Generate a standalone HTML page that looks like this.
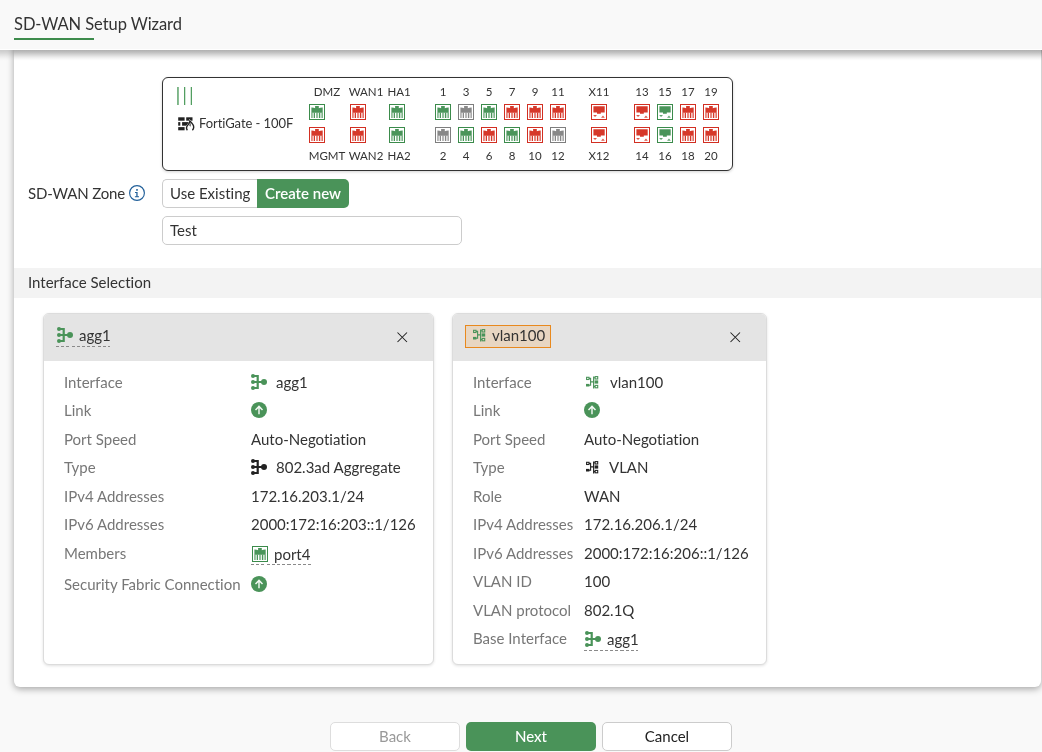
<!DOCTYPE html>
<html><head><meta charset="utf-8"><title>SD-WAN Setup Wizard</title>
<style>
*{box-sizing:border-box;margin:0;padding:0}
html,body{width:1042px;height:752px;overflow:hidden;background:#f9f9f9;font-family:"Lato","Liberation Sans",sans-serif;color:#333;font-variant-ligatures:none;font-feature-settings:"liga" 0,"clig" 0}
body{position:relative}
.a{position:absolute}
.t{position:absolute;white-space:nowrap;font-size:15px;line-height:20px;will-change:transform}
.pi,.ic{position:absolute;display:block}
.pl{position:absolute;will-change:transform;white-space:nowrap;font-size:11.5px;line-height:14px;color:#333;text-align:center;width:40px}
.lbl{color:#777}
.val{color:#333}
</style></head><body>

<div class="a" style="left:14px;top:20px;width:1027px;height:667px;background:#fff;border-radius:6px;box-shadow:0 2px 7px rgba(0,0,0,.34)"></div>
<div class="a" style="left:0;top:0;width:1042px;height:50px;background:#f9f9f9;border-bottom:1px solid #fff"></div>
<div class="a" style="left:0;top:50px;width:14px;height:12px;opacity:.6;background:linear-gradient(to bottom,rgba(0,0,0,.31) 0,rgba(0,0,0,.26) 2px,rgba(0,0,0,.19) 4px,rgba(0,0,0,.115) 6px,rgba(0,0,0,.05) 8px,rgba(0,0,0,.012) 10px,rgba(0,0,0,0) 11px)"></div>
<div class="a" style="left:14px;top:50px;width:1028px;height:12px;background:linear-gradient(to bottom,rgba(0,0,0,.31) 0,rgba(0,0,0,.26) 2px,rgba(0,0,0,.19) 4px,rgba(0,0,0,.115) 6px,rgba(0,0,0,.05) 8px,rgba(0,0,0,.012) 10px,rgba(0,0,0,0) 11px)"></div>
<div class="t" style="left:13.5px;top:14px;font-size:16.5px;color:#333;letter-spacing:-.07px">SD-WAN Setup Wizard</div>
<div class="a" style="left:14px;top:38px;width:80px;height:2px;background:#3d8b4c"></div>
<div class="a" style="left:162px;top:77px;width:571px;height:94px;border:1px solid #333;border-radius:6px;box-shadow:0 1px 3px rgba(0,0,0,.18);background:#fff"></div>
<svg class="ic" style="left:176px;top:87px" width="18" height="18" viewBox="0 0 18 18"><g fill="#4a9a5a"><rect x="1.1" y="0" width="1.7" height="18" opacity=".8"/><rect x="8.05" y="0" width="1.2" height="18"/><rect x="14.75" y="0" width="1.2" height="18"/></g></svg>
<svg class="ic" style="left:176px;top:115px" width="22" height="18" viewBox="0 0 22 18"><g fill="#222"><rect x="2.2" y="2.3" width="6.4" height="3.4"/><rect x="10.2" y="2.3" width="6.3" height="3.4"/><rect x="2.2" y="7.1" width="2.1" height="3.6"/><rect x="6.1" y="7.1" width="6.8" height="3.6"/><rect x="2.2" y="12.1" width="6.4" height="3.2"/></g><path d="M11.4 15.2C9.9 13.6 10.6 11.4 12.2 9.6C13.1 8.5 13.8 7.4 13.9 6C15.9 7.8 17.9 9.9 17.7 12.4C17.6 13.7 17.1 14.6 16.4 15.2Z" fill="#fff" stroke="#fff" stroke-width="1.8"/><path d="M11.4 15.2C9.9 13.6 10.6 11.4 12.2 9.6C13.1 8.5 13.8 7.4 13.9 6C15.9 7.8 17.9 9.9 17.7 12.4C17.6 13.7 17.1 14.6 16.4 15.2" fill="none" stroke="#222" stroke-width="1.4"/><path d="M14.1 7.6C14.8 9 14.7 10.4 14.4 11.8L13.4 10.4Z" fill="#222"/></svg>
<div class="t" style="left:199px;top:115px;font-size:13px;line-height:16px;color:#333;letter-spacing:-.07px">FortiGate - 100F</div>
<div class="pl" style="left:306.5px;top:85px">DMZ</div>
<div class="pl" style="left:306.5px;top:149px">MGMT</div>
<div class="pl" style="left:346.2px;top:85px">WAN1</div>
<div class="pl" style="left:346.2px;top:149px">WAN2</div>
<div class="pl" style="left:379.2px;top:85px">HA1</div>
<div class="pl" style="left:379.2px;top:149px">HA2</div>
<svg class="pi" style="left:309px;top:104px" width="16" height="16" viewBox="0 0 16 16"><rect x="0.5" y="0.5" width="15" height="15" fill="#fff" stroke="#3b8b4b"/><path d="M2.4 3.4Q4.5 3.3 6.1 4.2V2H9.8V4.2Q11.5 3.3 13.7 3.4V8.7H2.4Z" fill="#4a955a"/><g fill="#4a955a"><rect x="2.4" y="8.6" width="1" height="5.4"/><rect x="5" y="8.6" width="1" height="5.4"/><rect x="10" y="8.6" width="1" height="5.4"/><rect x="12.7" y="8.6" width="1" height="5.4"/><rect x="7" y="8.6" width="2.2" height="5.4" opacity=".6"/><rect x="3.4" y="8.6" width="1.6" height="5.4" opacity=".3"/><rect x="11" y="8.6" width="1.7" height="5.4" opacity=".3"/></g></svg>
<svg class="pi" style="left:309px;top:127px" width="16" height="16" viewBox="0 0 16 16"><rect x="0.5" y="0.5" width="15" height="15" fill="#fff" stroke="#d22f22"/><path d="M2.4 3.4Q4.5 3.3 6.1 4.2V2H9.8V4.2Q11.5 3.3 13.7 3.4V8.7H2.4Z" fill="#d6382a"/><g fill="#d6382a"><rect x="2.4" y="8.6" width="1" height="5.4"/><rect x="5" y="8.6" width="1" height="5.4"/><rect x="10" y="8.6" width="1" height="5.4"/><rect x="12.7" y="8.6" width="1" height="5.4"/><rect x="7" y="8.6" width="2.2" height="5.4" opacity=".6"/><rect x="3.4" y="8.6" width="1.6" height="5.4" opacity=".3"/><rect x="11" y="8.6" width="1.7" height="5.4" opacity=".3"/></g></svg>
<svg class="pi" style="left:350px;top:104px" width="16" height="16" viewBox="0 0 16 16"><rect x="0.5" y="0.5" width="15" height="15" fill="#fff" stroke="#d22f22"/><path d="M2.4 3.4Q4.5 3.3 6.1 4.2V2H9.8V4.2Q11.5 3.3 13.7 3.4V8.7H2.4Z" fill="#d6382a"/><g fill="#d6382a"><rect x="2.4" y="8.6" width="1" height="5.4"/><rect x="5" y="8.6" width="1" height="5.4"/><rect x="10" y="8.6" width="1" height="5.4"/><rect x="12.7" y="8.6" width="1" height="5.4"/><rect x="7" y="8.6" width="2.2" height="5.4" opacity=".6"/><rect x="3.4" y="8.6" width="1.6" height="5.4" opacity=".3"/><rect x="11" y="8.6" width="1.7" height="5.4" opacity=".3"/></g></svg>
<svg class="pi" style="left:350px;top:127px" width="16" height="16" viewBox="0 0 16 16"><rect x="0.5" y="0.5" width="15" height="15" fill="#fff" stroke="#d22f22"/><path d="M2.4 3.4Q4.5 3.3 6.1 4.2V2H9.8V4.2Q11.5 3.3 13.7 3.4V8.7H2.4Z" fill="#d6382a"/><g fill="#d6382a"><rect x="2.4" y="8.6" width="1" height="5.4"/><rect x="5" y="8.6" width="1" height="5.4"/><rect x="10" y="8.6" width="1" height="5.4"/><rect x="12.7" y="8.6" width="1" height="5.4"/><rect x="7" y="8.6" width="2.2" height="5.4" opacity=".6"/><rect x="3.4" y="8.6" width="1.6" height="5.4" opacity=".3"/><rect x="11" y="8.6" width="1.7" height="5.4" opacity=".3"/></g></svg>
<svg class="pi" style="left:389px;top:104px" width="16" height="16" viewBox="0 0 16 16"><rect x="0.5" y="0.5" width="15" height="15" fill="#fff" stroke="#3b8b4b"/><path d="M2.4 3.4Q4.5 3.3 6.1 4.2V2H9.8V4.2Q11.5 3.3 13.7 3.4V8.7H2.4Z" fill="#4a955a"/><g fill="#4a955a"><rect x="2.4" y="8.6" width="1" height="5.4"/><rect x="5" y="8.6" width="1" height="5.4"/><rect x="10" y="8.6" width="1" height="5.4"/><rect x="12.7" y="8.6" width="1" height="5.4"/><rect x="7" y="8.6" width="2.2" height="5.4" opacity=".6"/><rect x="3.4" y="8.6" width="1.6" height="5.4" opacity=".3"/><rect x="11" y="8.6" width="1.7" height="5.4" opacity=".3"/></g></svg>
<svg class="pi" style="left:389px;top:127px" width="16" height="16" viewBox="0 0 16 16"><rect x="0.5" y="0.5" width="15" height="15" fill="#fff" stroke="#3b8b4b"/><path d="M2.4 3.4Q4.5 3.3 6.1 4.2V2H9.8V4.2Q11.5 3.3 13.7 3.4V8.7H2.4Z" fill="#4a955a"/><g fill="#4a955a"><rect x="2.4" y="8.6" width="1" height="5.4"/><rect x="5" y="8.6" width="1" height="5.4"/><rect x="10" y="8.6" width="1" height="5.4"/><rect x="12.7" y="8.6" width="1" height="5.4"/><rect x="7" y="8.6" width="2.2" height="5.4" opacity=".6"/><rect x="3.4" y="8.6" width="1.6" height="5.4" opacity=".3"/><rect x="11" y="8.6" width="1.7" height="5.4" opacity=".3"/></g></svg>
<div class="pl" style="left:423px;top:85px">1</div>
<div class="pl" style="left:423px;top:149px">2</div>
<svg class="pi" style="left:435px;top:104px" width="16" height="16" viewBox="0 0 16 16"><rect x="0.5" y="0.5" width="15" height="15" fill="#fff" stroke="#3b8b4b"/><path d="M2.4 3.4Q4.5 3.3 6.1 4.2V2H9.8V4.2Q11.5 3.3 13.7 3.4V8.7H2.4Z" fill="#4a955a"/><g fill="#4a955a"><rect x="2.4" y="8.6" width="1" height="5.4"/><rect x="5" y="8.6" width="1" height="5.4"/><rect x="10" y="8.6" width="1" height="5.4"/><rect x="12.7" y="8.6" width="1" height="5.4"/><rect x="7" y="8.6" width="2.2" height="5.4" opacity=".6"/><rect x="3.4" y="8.6" width="1.6" height="5.4" opacity=".3"/><rect x="11" y="8.6" width="1.7" height="5.4" opacity=".3"/></g></svg>
<svg class="pi" style="left:435px;top:127px" width="16" height="16" viewBox="0 0 16 16"><rect x="0.5" y="0.5" width="15" height="15" fill="#fff" stroke="#7e7e7e"/><path d="M2.4 3.4Q4.5 3.3 6.1 4.2V2H9.8V4.2Q11.5 3.3 13.7 3.4V8.7H2.4Z" fill="#888888"/><g fill="#888888"><rect x="2.4" y="8.6" width="1" height="5.4"/><rect x="5" y="8.6" width="1" height="5.4"/><rect x="10" y="8.6" width="1" height="5.4"/><rect x="12.7" y="8.6" width="1" height="5.4"/><rect x="7" y="8.6" width="2.2" height="5.4" opacity=".6"/><rect x="3.4" y="8.6" width="1.6" height="5.4" opacity=".3"/><rect x="11" y="8.6" width="1.7" height="5.4" opacity=".3"/></g></svg>
<div class="pl" style="left:446px;top:85px">3</div>
<div class="pl" style="left:446px;top:149px">4</div>
<svg class="pi" style="left:458px;top:104px" width="16" height="16" viewBox="0 0 16 16"><rect x="0.5" y="0.5" width="15" height="15" fill="#fff" stroke="#7e7e7e"/><path d="M2.4 3.4Q4.5 3.3 6.1 4.2V2H9.8V4.2Q11.5 3.3 13.7 3.4V8.7H2.4Z" fill="#888888"/><g fill="#888888"><rect x="2.4" y="8.6" width="1" height="5.4"/><rect x="5" y="8.6" width="1" height="5.4"/><rect x="10" y="8.6" width="1" height="5.4"/><rect x="12.7" y="8.6" width="1" height="5.4"/><rect x="7" y="8.6" width="2.2" height="5.4" opacity=".6"/><rect x="3.4" y="8.6" width="1.6" height="5.4" opacity=".3"/><rect x="11" y="8.6" width="1.7" height="5.4" opacity=".3"/></g></svg>
<svg class="pi" style="left:458px;top:127px" width="16" height="16" viewBox="0 0 16 16"><rect x="0.5" y="0.5" width="15" height="15" fill="#fff" stroke="#3b8b4b"/><path d="M2.4 3.4Q4.5 3.3 6.1 4.2V2H9.8V4.2Q11.5 3.3 13.7 3.4V8.7H2.4Z" fill="#4a955a"/><g fill="#4a955a"><rect x="2.4" y="8.6" width="1" height="5.4"/><rect x="5" y="8.6" width="1" height="5.4"/><rect x="10" y="8.6" width="1" height="5.4"/><rect x="12.7" y="8.6" width="1" height="5.4"/><rect x="7" y="8.6" width="2.2" height="5.4" opacity=".6"/><rect x="3.4" y="8.6" width="1.6" height="5.4" opacity=".3"/><rect x="11" y="8.6" width="1.7" height="5.4" opacity=".3"/></g></svg>
<div class="pl" style="left:469px;top:85px">5</div>
<div class="pl" style="left:469px;top:149px">6</div>
<svg class="pi" style="left:481px;top:104px" width="16" height="16" viewBox="0 0 16 16"><rect x="0.5" y="0.5" width="15" height="15" fill="#fff" stroke="#3b8b4b"/><path d="M2.4 3.4Q4.5 3.3 6.1 4.2V2H9.8V4.2Q11.5 3.3 13.7 3.4V8.7H2.4Z" fill="#4a955a"/><g fill="#4a955a"><rect x="2.4" y="8.6" width="1" height="5.4"/><rect x="5" y="8.6" width="1" height="5.4"/><rect x="10" y="8.6" width="1" height="5.4"/><rect x="12.7" y="8.6" width="1" height="5.4"/><rect x="7" y="8.6" width="2.2" height="5.4" opacity=".6"/><rect x="3.4" y="8.6" width="1.6" height="5.4" opacity=".3"/><rect x="11" y="8.6" width="1.7" height="5.4" opacity=".3"/></g></svg>
<svg class="pi" style="left:481px;top:127px" width="16" height="16" viewBox="0 0 16 16"><rect x="0.5" y="0.5" width="15" height="15" fill="#fff" stroke="#d22f22"/><path d="M2.4 3.4Q4.5 3.3 6.1 4.2V2H9.8V4.2Q11.5 3.3 13.7 3.4V8.7H2.4Z" fill="#d6382a"/><g fill="#d6382a"><rect x="2.4" y="8.6" width="1" height="5.4"/><rect x="5" y="8.6" width="1" height="5.4"/><rect x="10" y="8.6" width="1" height="5.4"/><rect x="12.7" y="8.6" width="1" height="5.4"/><rect x="7" y="8.6" width="2.2" height="5.4" opacity=".6"/><rect x="3.4" y="8.6" width="1.6" height="5.4" opacity=".3"/><rect x="11" y="8.6" width="1.7" height="5.4" opacity=".3"/></g></svg>
<div class="pl" style="left:492px;top:85px">7</div>
<div class="pl" style="left:492px;top:149px">8</div>
<svg class="pi" style="left:504px;top:104px" width="16" height="16" viewBox="0 0 16 16"><rect x="0.5" y="0.5" width="15" height="15" fill="#fff" stroke="#d22f22"/><path d="M2.4 3.4Q4.5 3.3 6.1 4.2V2H9.8V4.2Q11.5 3.3 13.7 3.4V8.7H2.4Z" fill="#d6382a"/><g fill="#d6382a"><rect x="2.4" y="8.6" width="1" height="5.4"/><rect x="5" y="8.6" width="1" height="5.4"/><rect x="10" y="8.6" width="1" height="5.4"/><rect x="12.7" y="8.6" width="1" height="5.4"/><rect x="7" y="8.6" width="2.2" height="5.4" opacity=".6"/><rect x="3.4" y="8.6" width="1.6" height="5.4" opacity=".3"/><rect x="11" y="8.6" width="1.7" height="5.4" opacity=".3"/></g></svg>
<svg class="pi" style="left:504px;top:127px" width="16" height="16" viewBox="0 0 16 16"><rect x="0.5" y="0.5" width="15" height="15" fill="#fff" stroke="#3b8b4b"/><path d="M2.4 3.4Q4.5 3.3 6.1 4.2V2H9.8V4.2Q11.5 3.3 13.7 3.4V8.7H2.4Z" fill="#4a955a"/><g fill="#4a955a"><rect x="2.4" y="8.6" width="1" height="5.4"/><rect x="5" y="8.6" width="1" height="5.4"/><rect x="10" y="8.6" width="1" height="5.4"/><rect x="12.7" y="8.6" width="1" height="5.4"/><rect x="7" y="8.6" width="2.2" height="5.4" opacity=".6"/><rect x="3.4" y="8.6" width="1.6" height="5.4" opacity=".3"/><rect x="11" y="8.6" width="1.7" height="5.4" opacity=".3"/></g></svg>
<div class="pl" style="left:515px;top:85px">9</div>
<div class="pl" style="left:515px;top:149px">10</div>
<svg class="pi" style="left:527px;top:104px" width="16" height="16" viewBox="0 0 16 16"><rect x="0.5" y="0.5" width="15" height="15" fill="#fff" stroke="#d22f22"/><path d="M2.4 3.4Q4.5 3.3 6.1 4.2V2H9.8V4.2Q11.5 3.3 13.7 3.4V8.7H2.4Z" fill="#d6382a"/><g fill="#d6382a"><rect x="2.4" y="8.6" width="1" height="5.4"/><rect x="5" y="8.6" width="1" height="5.4"/><rect x="10" y="8.6" width="1" height="5.4"/><rect x="12.7" y="8.6" width="1" height="5.4"/><rect x="7" y="8.6" width="2.2" height="5.4" opacity=".6"/><rect x="3.4" y="8.6" width="1.6" height="5.4" opacity=".3"/><rect x="11" y="8.6" width="1.7" height="5.4" opacity=".3"/></g></svg>
<svg class="pi" style="left:527px;top:127px" width="16" height="16" viewBox="0 0 16 16"><rect x="0.5" y="0.5" width="15" height="15" fill="#fff" stroke="#d22f22"/><path d="M2.4 3.4Q4.5 3.3 6.1 4.2V2H9.8V4.2Q11.5 3.3 13.7 3.4V8.7H2.4Z" fill="#d6382a"/><g fill="#d6382a"><rect x="2.4" y="8.6" width="1" height="5.4"/><rect x="5" y="8.6" width="1" height="5.4"/><rect x="10" y="8.6" width="1" height="5.4"/><rect x="12.7" y="8.6" width="1" height="5.4"/><rect x="7" y="8.6" width="2.2" height="5.4" opacity=".6"/><rect x="3.4" y="8.6" width="1.6" height="5.4" opacity=".3"/><rect x="11" y="8.6" width="1.7" height="5.4" opacity=".3"/></g></svg>
<div class="pl" style="left:538px;top:85px">11</div>
<div class="pl" style="left:538px;top:149px">12</div>
<svg class="pi" style="left:550px;top:104px" width="16" height="16" viewBox="0 0 16 16"><rect x="0.5" y="0.5" width="15" height="15" fill="#fff" stroke="#d22f22"/><path d="M2.4 3.4Q4.5 3.3 6.1 4.2V2H9.8V4.2Q11.5 3.3 13.7 3.4V8.7H2.4Z" fill="#d6382a"/><g fill="#d6382a"><rect x="2.4" y="8.6" width="1" height="5.4"/><rect x="5" y="8.6" width="1" height="5.4"/><rect x="10" y="8.6" width="1" height="5.4"/><rect x="12.7" y="8.6" width="1" height="5.4"/><rect x="7" y="8.6" width="2.2" height="5.4" opacity=".6"/><rect x="3.4" y="8.6" width="1.6" height="5.4" opacity=".3"/><rect x="11" y="8.6" width="1.7" height="5.4" opacity=".3"/></g></svg>
<svg class="pi" style="left:550px;top:127px" width="16" height="16" viewBox="0 0 16 16"><rect x="0.5" y="0.5" width="15" height="15" fill="#fff" stroke="#7e7e7e"/><path d="M2.4 3.4Q4.5 3.3 6.1 4.2V2H9.8V4.2Q11.5 3.3 13.7 3.4V8.7H2.4Z" fill="#888888"/><g fill="#888888"><rect x="2.4" y="8.6" width="1" height="5.4"/><rect x="5" y="8.6" width="1" height="5.4"/><rect x="10" y="8.6" width="1" height="5.4"/><rect x="12.7" y="8.6" width="1" height="5.4"/><rect x="7" y="8.6" width="2.2" height="5.4" opacity=".6"/><rect x="3.4" y="8.6" width="1.6" height="5.4" opacity=".3"/><rect x="11" y="8.6" width="1.7" height="5.4" opacity=".3"/></g></svg>
<div class="pl" style="left:579px;top:85px">X11</div>
<div class="pl" style="left:579px;top:149px">X12</div>
<svg class="pi" style="left:591px;top:104px" width="16" height="16" viewBox="0 0 16 16"><rect x="0.5" y="0.5" width="15" height="15" fill="#fff" stroke="#d22f22"/><path d="M2.4 2.2H13.7V8.6H9.8V9.7H6V8.6H2.4Z" fill="#d6382a"/><path d="M2.1 10.9H6L4.05 13Z" fill="#d6382a" opacity=".85"/><path d="M10.1 13.7H13.8L11.95 11.5Z" fill="#d6382a" opacity=".85"/></svg>
<svg class="pi" style="left:591px;top:127px" width="16" height="16" viewBox="0 0 16 16"><rect x="0.5" y="0.5" width="15" height="15" fill="#fff" stroke="#d22f22"/><path d="M2.4 2.2H13.7V8.6H9.8V9.7H6V8.6H2.4Z" fill="#d6382a"/><path d="M2.1 10.9H6L4.05 13Z" fill="#d6382a" opacity=".85"/><path d="M10.1 13.7H13.8L11.95 11.5Z" fill="#d6382a" opacity=".85"/></svg>
<div class="pl" style="left:622px;top:85px">13</div>
<div class="pl" style="left:622px;top:149px">14</div>
<svg class="pi" style="left:634px;top:104px" width="16" height="16" viewBox="0 0 16 16"><rect x="0.5" y="0.5" width="15" height="15" fill="#fff" stroke="#d22f22"/><path d="M2.4 2.2H13.7V8.6H9.8V9.7H6V8.6H2.4Z" fill="#d6382a"/><path d="M2.1 10.9H6L4.05 13Z" fill="#d6382a" opacity=".85"/><path d="M10.1 13.7H13.8L11.95 11.5Z" fill="#d6382a" opacity=".85"/></svg>
<svg class="pi" style="left:634px;top:127px" width="16" height="16" viewBox="0 0 16 16"><rect x="0.5" y="0.5" width="15" height="15" fill="#fff" stroke="#d22f22"/><path d="M2.4 2.2H13.7V8.6H9.8V9.7H6V8.6H2.4Z" fill="#d6382a"/><path d="M2.1 10.9H6L4.05 13Z" fill="#d6382a" opacity=".85"/><path d="M10.1 13.7H13.8L11.95 11.5Z" fill="#d6382a" opacity=".85"/></svg>
<div class="pl" style="left:645px;top:85px">15</div>
<div class="pl" style="left:645px;top:149px">16</div>
<svg class="pi" style="left:657px;top:104px" width="16" height="16" viewBox="0 0 16 16"><rect x="0.5" y="0.5" width="15" height="15" fill="#fff" stroke="#3b8b4b"/><path d="M2.4 2.2H13.7V8.6H9.8V9.7H6V8.6H2.4Z" fill="#4a955a"/><path d="M2.1 10.9H6L4.05 13Z" fill="#4a955a" opacity=".85"/><path d="M10.1 13.7H13.8L11.95 11.5Z" fill="#4a955a" opacity=".85"/></svg>
<svg class="pi" style="left:657px;top:127px" width="16" height="16" viewBox="0 0 16 16"><rect x="0.5" y="0.5" width="15" height="15" fill="#fff" stroke="#3b8b4b"/><path d="M2.4 2.2H13.7V8.6H9.8V9.7H6V8.6H2.4Z" fill="#4a955a"/><path d="M2.1 10.9H6L4.05 13Z" fill="#4a955a" opacity=".85"/><path d="M10.1 13.7H13.8L11.95 11.5Z" fill="#4a955a" opacity=".85"/></svg>
<div class="pl" style="left:668px;top:85px">17</div>
<div class="pl" style="left:668px;top:149px">18</div>
<svg class="pi" style="left:680px;top:104px" width="16" height="16" viewBox="0 0 16 16"><rect x="0.5" y="0.5" width="15" height="15" fill="#fff" stroke="#d22f22"/><path d="M2.4 3.4Q4.5 3.3 6.1 4.2V2H9.8V4.2Q11.5 3.3 13.7 3.4V8.7H2.4Z" fill="#d6382a"/><g fill="#d6382a"><rect x="2.4" y="8.6" width="1" height="5.4"/><rect x="5" y="8.6" width="1" height="5.4"/><rect x="10" y="8.6" width="1" height="5.4"/><rect x="12.7" y="8.6" width="1" height="5.4"/><rect x="7" y="8.6" width="2.2" height="5.4" opacity=".6"/><rect x="3.4" y="8.6" width="1.6" height="5.4" opacity=".3"/><rect x="11" y="8.6" width="1.7" height="5.4" opacity=".3"/></g></svg>
<svg class="pi" style="left:680px;top:127px" width="16" height="16" viewBox="0 0 16 16"><rect x="0.5" y="0.5" width="15" height="15" fill="#fff" stroke="#d22f22"/><path d="M2.4 3.4Q4.5 3.3 6.1 4.2V2H9.8V4.2Q11.5 3.3 13.7 3.4V8.7H2.4Z" fill="#d6382a"/><g fill="#d6382a"><rect x="2.4" y="8.6" width="1" height="5.4"/><rect x="5" y="8.6" width="1" height="5.4"/><rect x="10" y="8.6" width="1" height="5.4"/><rect x="12.7" y="8.6" width="1" height="5.4"/><rect x="7" y="8.6" width="2.2" height="5.4" opacity=".6"/><rect x="3.4" y="8.6" width="1.6" height="5.4" opacity=".3"/><rect x="11" y="8.6" width="1.7" height="5.4" opacity=".3"/></g></svg>
<div class="pl" style="left:691px;top:85px">19</div>
<div class="pl" style="left:691px;top:149px">20</div>
<svg class="pi" style="left:703px;top:104px" width="16" height="16" viewBox="0 0 16 16"><rect x="0.5" y="0.5" width="15" height="15" fill="#fff" stroke="#d22f22"/><path d="M2.4 3.4Q4.5 3.3 6.1 4.2V2H9.8V4.2Q11.5 3.3 13.7 3.4V8.7H2.4Z" fill="#d6382a"/><g fill="#d6382a"><rect x="2.4" y="8.6" width="1" height="5.4"/><rect x="5" y="8.6" width="1" height="5.4"/><rect x="10" y="8.6" width="1" height="5.4"/><rect x="12.7" y="8.6" width="1" height="5.4"/><rect x="7" y="8.6" width="2.2" height="5.4" opacity=".6"/><rect x="3.4" y="8.6" width="1.6" height="5.4" opacity=".3"/><rect x="11" y="8.6" width="1.7" height="5.4" opacity=".3"/></g></svg>
<svg class="pi" style="left:703px;top:127px" width="16" height="16" viewBox="0 0 16 16"><rect x="0.5" y="0.5" width="15" height="15" fill="#fff" stroke="#d22f22"/><path d="M2.4 3.4Q4.5 3.3 6.1 4.2V2H9.8V4.2Q11.5 3.3 13.7 3.4V8.7H2.4Z" fill="#d6382a"/><g fill="#d6382a"><rect x="2.4" y="8.6" width="1" height="5.4"/><rect x="5" y="8.6" width="1" height="5.4"/><rect x="10" y="8.6" width="1" height="5.4"/><rect x="12.7" y="8.6" width="1" height="5.4"/><rect x="7" y="8.6" width="2.2" height="5.4" opacity=".6"/><rect x="3.4" y="8.6" width="1.6" height="5.4" opacity=".3"/><rect x="11" y="8.6" width="1.7" height="5.4" opacity=".3"/></g></svg>
<div class="t" style="left:28px;top:183px;letter-spacing:-.15px">SD-WAN Zone</div>
<svg class="ic" style="left:129px;top:185px" width="16" height="16" viewBox="0 0 16 16"><circle cx="8" cy="8" r="7.4" fill="none" stroke="#22609a" stroke-width="1.15"/><rect x="7.1" y="4" width="1.8" height="1.8" fill="#22609a" opacity=".85"/><path d="M6 7H8.6V11.2H10V12.3H5.9V11.2H7.3V7.9H6Z" fill="#22609a"/></svg>
<div class="a" style="left:162px;top:179px;width:96px;height:29px;border:1px solid #ccc;border-right:none;border-radius:5px 0 0 5px;background:#fff"></div>
<div class="a" style="left:257px;top:179px;width:92px;height:29px;background:#4a9359;border-radius:0 5px 5px 0"></div>
<div class="t" style="left:170px;top:183px">Use Existing</div>
<div class="t" style="left:264.5px;top:183px;color:#fff;font-weight:600">Create new</div>
<div class="a" style="left:162px;top:216px;width:300px;height:29px;border:1px solid #ccc;border-radius:5px;background:#fff"></div>
<div class="t" style="left:170px;top:220px">Test</div>
<div class="a" style="left:14px;top:268px;width:1027px;height:30px;background:#f3f3f3"></div>
<div class="t" style="left:28px;top:272px">Interface Selection</div>
<div class="a" style="left:43px;top:313px;width:391px;height:352px;border:1px solid #dcdcdc;border-radius:6px;background:#fff;box-shadow:0 1px 3px rgba(0,0,0,.12);overflow:hidden"><div style="height:47px;background:#e4e4e4"></div></div>
<div class="a" style="left:452px;top:313px;width:315px;height:352px;border:1px solid #dcdcdc;border-radius:6px;background:#fff;box-shadow:0 1px 3px rgba(0,0,0,.12);overflow:hidden"><div style="height:47px;background:#e4e4e4"></div></div>
<svg class="ic" style="left:57px;top:327px" width="16" height="16" viewBox="0 0 16 16"><g fill="#4a9359"><circle cx="2" cy="2" r="2"/><circle cx="2" cy="8" r="2"/><circle cx="2" cy="14" r="2"/><rect x="5.6" y="1" width="2.2" height="14"/><rect x="2" y="1" width="4" height="2"/><rect x="2" y="7" width="6" height="2"/><rect x="2" y="13" width="4" height="2"/><rect x="7" y="7" width="4" height="2"/><circle cx="13" cy="8" r="3"/></g></svg>
<div class="t" style="left:79px;top:325px">agg1</div>
<div class="a" style="left:56px;top:346px;width:54px;height:1px;background:repeating-linear-gradient(90deg,#8a8a8a 0 3.1px,transparent 3.1px 5.2px)"></div>
<svg class="ic" style="left:397px;top:332px" width="10.5" height="10.5" viewBox="0 0 10.5 10.5"><path d="M0.5 0.5L10 10M10 0.5L0.5 10" stroke="#1e1e1e" stroke-width="1.05"/></svg>
<div class="a" style="left:465px;top:325px;width:86px;height:23px;border:1px solid #e8891e;background:#e8d6c2"></div>
<svg class="ic" style="left:473px;top:329px" width="13" height="13" viewBox="0 0 13 13"><g fill="none" stroke="#4a9359" stroke-width="1.1"><rect x="0.6" y="1.3" width="2.4" height="2.2"/><rect x="9.1" y="0.6" width="2.6" height="2.4"/><rect x="9.1" y="9.4" width="2.6" height="2.4"/><path d="M3 2.4H4.6V9.2H3M4.6 5.9H7.6M7.6 0.4V12.4M7.6 1.8H9.1M7.6 10.6H9.1"/></g><g fill="#4a9359"><rect x="0" y="7.9" width="3.4" height="2.6"/><rect x="8.6" y="4.4" width="3.6" height="3.2"/></g></svg>
<div class="t" style="left:492px;top:325px">vlan100</div>
<svg class="ic" style="left:730px;top:332px" width="10.5" height="10.5" viewBox="0 0 10.5 10.5"><path d="M0.5 0.5L10 10M10 0.5L0.5 10" stroke="#1e1e1e" stroke-width="1.05"/></svg>
<div class="t lbl" style="left:63.5px;top:372px">Interface</div>
<div class="t lbl" style="left:63.5px;top:400px">Link</div>
<div class="t lbl" style="left:63.5px;top:429px">Port Speed</div>
<div class="t lbl" style="left:63.5px;top:456.5px">Type</div>
<div class="t lbl" style="left:63.5px;top:485.5px">IPv4 Addresses</div>
<div class="t lbl" style="left:63.5px;top:514px">IPv6 Addresses</div>
<div class="t lbl" style="left:63.5px;top:542.5px">Members</div>
<div class="t lbl" style="left:63.5px;top:574px">Security Fabric Connection</div>
<svg class="ic" style="left:251px;top:374px" width="16" height="16" viewBox="0 0 16 16"><g fill="#4a9359"><circle cx="2" cy="2" r="2"/><circle cx="2" cy="8" r="2"/><circle cx="2" cy="14" r="2"/><rect x="5.6" y="1" width="2.2" height="14"/><rect x="2" y="1" width="4" height="2"/><rect x="2" y="7" width="6" height="2"/><rect x="2" y="13" width="4" height="2"/><rect x="7" y="7" width="4" height="2"/><circle cx="13" cy="8" r="3"/></g></svg>
<div class="t val" style="left:276px;top:372px">agg1</div>
<svg class="ic" style="left:251px;top:402px" width="16" height="16" viewBox="0 0 16 16"><circle cx="8" cy="8" r="8" fill="#4a9359"/><path d="M8 12.3V4.4M4.5 8L8 4.4L11.5 8" fill="none" stroke="#f2f8f3" stroke-width="1.45"/></svg>
<div class="t val" style="left:250.5px;top:429px">Auto-Negotiation</div>
<svg class="ic" style="left:251px;top:459px" width="16" height="16" viewBox="0 0 16 16"><g fill="#222"><circle cx="2" cy="2" r="2"/><circle cx="2" cy="8" r="2"/><circle cx="2" cy="14" r="2"/><rect x="5.6" y="1" width="2.2" height="14"/><rect x="2" y="1" width="4" height="2"/><rect x="2" y="7" width="6" height="2"/><rect x="2" y="13" width="4" height="2"/><rect x="7" y="7" width="4" height="2"/><circle cx="13" cy="8" r="3"/></g></svg>
<div class="t val" style="left:276px;top:456.5px">802.3ad Aggregate</div>
<div class="t val" style="left:250.5px;top:485.5px">172.16.203.1/24</div>
<div class="t val" style="left:250.5px;top:514px">2000:172:16:203::1/126</div>
<svg class="pi" style="left:252px;top:546px" width="16" height="16" viewBox="0 0 16 16"><rect x="0.5" y="0.5" width="15" height="15" fill="#fff" stroke="#3b8b4b"/><path d="M2.4 3.4Q4.5 3.3 6.1 4.2V2H9.8V4.2Q11.5 3.3 13.7 3.4V8.7H2.4Z" fill="#4a955a"/><g fill="#4a955a"><rect x="2.4" y="8.6" width="1" height="5.4"/><rect x="5" y="8.6" width="1" height="5.4"/><rect x="10" y="8.6" width="1" height="5.4"/><rect x="12.7" y="8.6" width="1" height="5.4"/><rect x="7" y="8.6" width="2.2" height="5.4" opacity=".6"/><rect x="3.4" y="8.6" width="1.6" height="5.4" opacity=".3"/><rect x="11" y="8.6" width="1.7" height="5.4" opacity=".3"/></g></svg>
<div class="t val" style="left:274px;top:544px">port4</div>
<div class="a" style="left:251px;top:564px;width:60px;height:1px;background:repeating-linear-gradient(90deg,#8a8a8a 0 3.1px,transparent 3.1px 5.2px)"></div>
<svg class="ic" style="left:251px;top:576px" width="16" height="16" viewBox="0 0 16 16"><circle cx="8" cy="8" r="8" fill="#4a9359"/><path d="M8 12.3V4.4M4.5 8L8 4.4L11.5 8" fill="none" stroke="#f2f8f3" stroke-width="1.45"/></svg>
<div class="t lbl" style="left:472.5px;top:372px">Interface</div>
<div class="t lbl" style="left:472.5px;top:400px">Link</div>
<div class="t lbl" style="left:472.5px;top:429px">Port Speed</div>
<div class="t lbl" style="left:472.5px;top:456.5px">Type</div>
<div class="t lbl" style="left:472.5px;top:485.5px">Role</div>
<div class="t lbl" style="left:472.5px;top:514px">IPv4 Addresses</div>
<div class="t lbl" style="left:472.5px;top:542.5px">IPv6 Addresses</div>
<div class="t lbl" style="left:472.5px;top:571px">VLAN ID</div>
<div class="t lbl" style="left:472.5px;top:599.5px">VLAN protocol</div>
<div class="t lbl" style="left:472.5px;top:628px">Base Interface</div>
<svg class="ic" style="left:586px;top:376px" width="13" height="13" viewBox="0 0 13 13"><g fill="none" stroke="#4a9359" stroke-width="1.1"><rect x="0.6" y="1.3" width="2.4" height="2.2"/><rect x="9.1" y="0.6" width="2.6" height="2.4"/><rect x="9.1" y="9.4" width="2.6" height="2.4"/><path d="M3 2.4H4.6V9.2H3M4.6 5.9H7.6M7.6 0.4V12.4M7.6 1.8H9.1M7.6 10.6H9.1"/></g><g fill="#4a9359"><rect x="0" y="7.9" width="3.4" height="2.6"/><rect x="8.6" y="4.4" width="3.6" height="3.2"/></g></svg>
<div class="t val" style="left:609.5px;top:372px">vlan100</div>
<svg class="ic" style="left:584px;top:402px" width="16" height="16" viewBox="0 0 16 16"><circle cx="8" cy="8" r="8" fill="#4a9359"/><path d="M8 12.3V4.4M4.5 8L8 4.4L11.5 8" fill="none" stroke="#f2f8f3" stroke-width="1.45"/></svg>
<div class="t val" style="left:583.5px;top:429px">Auto-Negotiation</div>
<svg class="ic" style="left:586px;top:461px" width="13" height="13" viewBox="0 0 13 13"><g fill="none" stroke="#222" stroke-width="1.1"><rect x="0.6" y="1.3" width="2.4" height="2.2"/><rect x="9.1" y="0.6" width="2.6" height="2.4"/><rect x="9.1" y="9.4" width="2.6" height="2.4"/><path d="M3 2.4H4.6V9.2H3M4.6 5.9H7.6M7.6 0.4V12.4M7.6 1.8H9.1M7.6 10.6H9.1"/></g><g fill="#222"><rect x="0" y="7.9" width="3.4" height="2.6"/><rect x="8.6" y="4.4" width="3.6" height="3.2"/></g></svg>
<div class="t val" style="left:608.5px;top:456.5px">VLAN</div>
<div class="t val" style="left:583.5px;top:485.5px">WAN</div>
<div class="t val" style="left:583.5px;top:514px">172.16.206.1/24</div>
<div class="t val" style="left:583.5px;top:542.5px">2000:172:16:206::1/126</div>
<div class="t val" style="left:583.5px;top:571px">100</div>
<div class="t val" style="left:583.5px;top:599.5px">802.1Q</div>
<svg class="ic" style="left:585px;top:631px" width="16" height="16" viewBox="0 0 16 16"><g fill="#4a9359"><circle cx="2" cy="2" r="2"/><circle cx="2" cy="8" r="2"/><circle cx="2" cy="14" r="2"/><rect x="5.6" y="1" width="2.2" height="14"/><rect x="2" y="1" width="4" height="2"/><rect x="2" y="7" width="6" height="2"/><rect x="2" y="13" width="4" height="2"/><rect x="7" y="7" width="4" height="2"/><circle cx="13" cy="8" r="3"/></g></svg>
<div class="t val" style="left:607px;top:628.5px">agg1</div>
<div class="a" style="left:584px;top:650px;width:54px;height:1px;background:repeating-linear-gradient(90deg,#8a8a8a 0 3.1px,transparent 3.1px 5.2px)"></div>
<div class="a" style="left:330px;top:722px;width:130px;height:29px;border:1px solid #ddd;border-radius:5px;background:#fff"></div>
<div class="t" style="left:330px;top:726px;width:130px;text-align:center;color:#999">Back</div>
<div class="a" style="left:466px;top:722px;width:130px;height:29px;border-radius:5px;background:#4a9359"></div>
<div class="t" style="left:466px;top:726px;width:130px;text-align:center;color:#fff;font-weight:500">Next</div>
<div class="a" style="left:602px;top:722px;width:130px;height:29px;border:1px solid #ccc;border-radius:5px;background:#fff"></div>
<div class="t" style="left:602px;top:726px;width:130px;text-align:center;color:#222">Cancel</div>
</body></html>
